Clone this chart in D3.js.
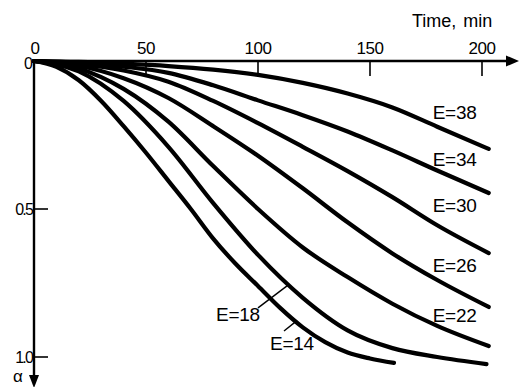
<!DOCTYPE html>
<html>
<head>
<meta charset="utf-8">
<script src="https://cdn.jsdelivr.net/npm/d3@7"></script>
<style>
  html, body { margin: 0; padding: 0; background: #fff; }
  svg { display: block; }
  text { font-family: "Liberation Sans", Arial, sans-serif; fill: #000; }
</style>
</head>
<body>
<svg id="chart" width="520" height="387"></svg>
<script>
// Conversion degree alpha versus time for several values of E
const timeTicks = [0, 50, 100, 150, 200];
const alphaTicks = [0, 0.5, 1.0];
const alphaTickLabels = ["0", "0.5", "1.0"];
const energies = [38, 34, 30, 26, 22, 18, 14];

// [time (min), alpha]
const curveE38 = [[0,0],[20,0.003],[40,0.009],[60,0.017],[80,0.029],[100,0.047],[120,0.074],[140,0.11],[160,0.157],[180,0.222],[203,0.297]];
const curveE34 = [[0,0],[20,0.006],[40,0.019],[60,0.04],[80,0.082],[100,0.133],[120,0.183],[140,0.238],[160,0.302],[180,0.37],[203,0.446]];
const curveE30 = [[0,0],[20,0.01],[40,0.032],[60,0.07],[80,0.135],[100,0.21],[120,0.29],[140,0.372],[160,0.46],[180,0.555],[203,0.649]];
const curveE26 = [[0,0],[20,0.016],[40,0.058],[60,0.125],[80,0.22],[100,0.32],[120,0.43],[140,0.545],[160,0.65],[180,0.74],[203,0.831]];
const curveE22 = [[0,0],[20,0.025],[40,0.094],[60,0.205],[80,0.355],[100,0.5],[120,0.63],[140,0.73],[160,0.82],[180,0.895],[203,0.963]];
const curveE18 = [[0,0],[20,0.035],[40,0.135],[60,0.29],[80,0.48],[100,0.655],[120,0.8],[140,0.91],[160,0.97],[180,1.0],[202,1.024]];
const curveE14 = [[0,0],[10,0.02],[20,0.065],[30,0.135],[40,0.22],[50,0.31],[60,0.405],[70,0.5],[80,0.6],[90,0.685],[100,0.76],[110,0.835],[120,0.9],[130,0.95],[140,0.985],[150,1.005],[160.7,1.02]];

const curves = [curveE38, curveE34, curveE30, curveE26, curveE22, curveE18, curveE14];

const svg = d3.select("#chart");
const x = d3.scaleLinear().domain([0, 200]).range([34, 482]);
const y = d3.scaleLinear().domain([0, 1]).range([61, 357]);

// axes with arrowheads
svg.append("line")
  .attr("x1", x(0)).attr("y1", y(0)).attr("x2", 510).attr("y2", y(0))
  .attr("stroke", "#000").attr("stroke-width", 2.4);
svg.append("path")
  .attr("d", `M506,${y(0) - 5.5} L519,${y(0)} L506,${y(0) + 5.5} Z`)
  .attr("fill", "#000");
svg.append("line")
  .attr("x1", x(0)).attr("y1", y(0)).attr("x2", x(0)).attr("y2", 378)
  .attr("stroke", "#000").attr("stroke-width", 2.4);
svg.append("path")
  .attr("d", `M${x(0) - 5},375 L${x(0)},388 L${x(0) + 5},375 Z`)
  .attr("fill", "#000");

// time axis ticks (downward) and labels (above)
svg.append("g").selectAll("line")
  .data(timeTicks.filter(d => d > 0))
  .join("line")
  .attr("x1", d => x(d)).attr("x2", d => x(d))
  .attr("y1", y(0)).attr("y2", y(0) + 15)
  .attr("stroke", "#000").attr("stroke-width", 1.6);
svg.append("g").selectAll("text")
  .data(timeTicks)
  .join("text")
  .attr("x", d => x(d) + (d === 0 ? 1 : 0)).attr("y", 54)
  .attr("text-anchor", "middle")
  .attr("font-size", 17)
  .attr("letter-spacing", -0.5)
  .text(d => d);

// alpha axis ticks (rightward) and labels (left)
svg.append("g").selectAll("line")
  .data(alphaTicks.filter(d => d > 0))
  .join("line")
  .attr("x1", x(0)).attr("x2", x(0) + 14)
  .attr("y1", d => y(d)).attr("y2", d => y(d))
  .attr("stroke", "#000").attr("stroke-width", 1.6);
svg.append("g").selectAll("text")
  .data(alphaTicks)
  .join("text")
  .attr("x", d => x(0) - (d === 0 ? 3 : 2))
  .attr("y", d => y(d) + (d === 0 ? 8 : 6))
  .attr("text-anchor", "end")
  .attr("font-size", 16)
  .attr("letter-spacing", -1.8)
  .text((d, i) => alphaTickLabels[i]);

svg.append("text").attr("x", 412).attr("y", 27)
  .attr("font-size", 18).attr("word-spacing", 2)
  .text("Time, min");
svg.append("text").attr("x", 13).attr("y", 382)
  .attr("font-size", 17)
  .text("α");

// curves
const line = d3.line()
  .x(d => x(d[0])).y(d => y(d[1]))
  .curve(d3.curveMonotoneX);
svg.append("g").selectAll("path")
  .data(curves)
  .join("path")
  .attr("d", line)
  .attr("fill", "none")
  .attr("stroke", "#000")
  .attr("stroke-width", 4.2)
  .attr("stroke-linecap", "round")
  .attr("stroke-linejoin", "round");

// curve labels (time, alpha of baseline start)
const labelSpots = {
  38: [178, 0.196], 34: [178, 0.355], 30: [178, 0.51],
  26: [178, 0.713], 22: [178, 0.882], 18: [81.3, 0.878], 14: [105.4, 0.976]
};
svg.append("g").selectAll("text")
  .data(energies)
  .join("text")
  .attr("x", d => x(labelSpots[d][0]))
  .attr("y", d => y(labelSpots[d][1]))
  .attr("font-size", 19)
  .attr("letter-spacing", -0.3)
  .text(d => "E=" + d);

// leader lines for the two steepest curves
const leaders = [
  [[100, 0.834], [113.4, 0.757]],
  [[111.6, 0.912], [117.4, 0.877]]
];
svg.append("g").selectAll("line")
  .data(leaders)
  .join("line")
  .attr("x1", d => x(d[0][0])).attr("y1", d => y(d[0][1]))
  .attr("x2", d => x(d[1][0])).attr("y2", d => y(d[1][1]))
  .attr("stroke", "#000").attr("stroke-width", 1.4);
</script>
</body>
</html>
